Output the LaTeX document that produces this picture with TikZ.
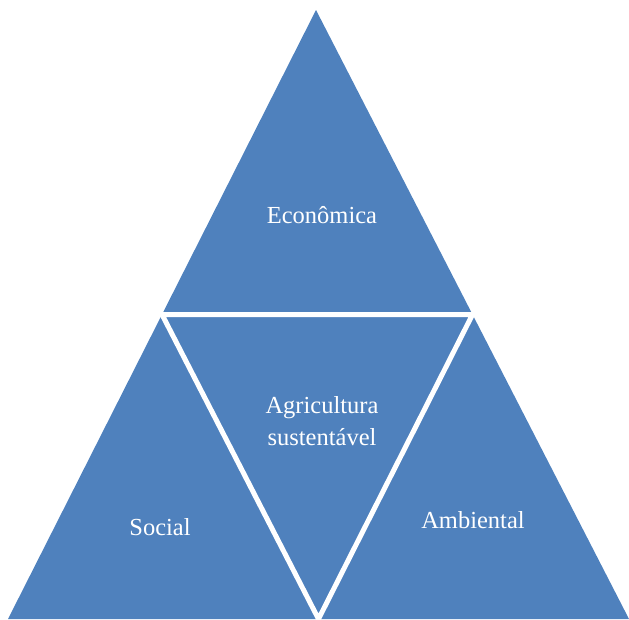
\documentclass[tikz,border=0pt]{standalone}
\usepackage{fontspec}
\setmainfont{Liberation Serif}
\usetikzlibrary{positioning,calc}
\definecolor{pieceblue}{RGB}{79,129,189}
\tikzset{
piece/.style={fill=pieceblue}, % the big blue triangle
cut/.style={draw=white, line width=5pt, line join=miter}, % white gaps between the parts
lbl/.style={text=white, font=\fontsize{24.5}{32}\selectfont, align=center},
}

\begin{document}
\begin{tikzpicture}[x=1pt,y=-1pt]
        \useasboundingbox (0,0) rectangle (629,619);
        \coordinate (top) at (316,10);
        \coordinate (left) at (8,619);
        \coordinate (right) at (629,619);
        \coordinate (m1) at ($(top)!0.5!(left)$);
        \coordinate (m2) at ($(top)!0.5!(right)$);
        \coordinate (m3) at ($(left)!0.5!(right)$);
        \fill[piece] (top) -- (left) -- (right) -- cycle;
        \draw[cut] (m1) -- (m2) -- (m3) -- cycle;
        \node[lbl] at (322,215) (eco) {Econômica};
        \node[lbl] at (322,421) (agri) {Agricultura\\sustentável};
        \node[lbl] at (160,527) (soc) {Social};
        \node[lbl] at (473,520) (amb) {Ambiental};
    \end{tikzpicture}
\end{document}
